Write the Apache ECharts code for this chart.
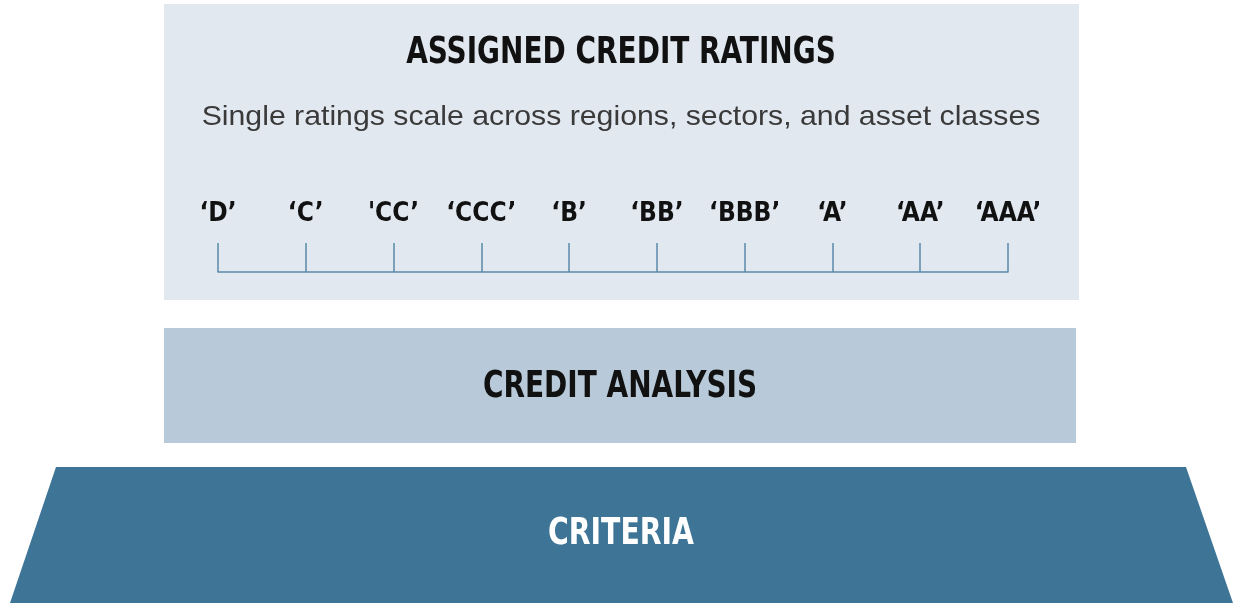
<!DOCTYPE html>
<html>
<head>
<meta charset="utf-8">
<script src="https://cdn.jsdelivr.net/npm/echarts@6/dist/echarts.min.js"></script>
<style>
  html, body { margin: 0; padding: 0; background: #fff; }
  #chart { width: 1235px; height: 604px; }
</style>
</head>
<body>
<div id="chart"></div>
<script>
// Rating scale, lowest to highest
const ratings = ['\u2018D\u2019', '\u2018C\u2019', '\'CC\u2019', '\u2018CCC\u2019', '\u2018B\u2019', '\u2018BB\u2019', '\u2018BBB\u2019', '\u2018A\u2019', '\u2018AA\u2019', '\u2018AAA\u2019'];

// Layer titles, top to bottom
const layerTitles = ['ASSIGNED CREDIT RATINGS', 'CREDIT ANALYSIS', 'CRITERIA'];
const subtitle = 'Single ratings scale across regions, sectors, and asset classes';

const narrow = "'DejaVu Sans Condensed', 'DejaVu Sans', sans-serif";

// centred text block, squeezed horizontally to look like a condensed face
function label(text, x, y, opts) {
  return {
    type: 'text',
    silent: true,
    x: x,
    y: y,
    scaleX: opts.scaleX || 1,
    style: Object.assign({
      text: text,
      x: 0,
      y: 0,
      align: 'center',
      verticalAlign: 'middle'
    }, opts.style)
  };
}

const chart = echarts.init(document.getElementById('chart'));

const headStyle = { fontFamily: narrow, fontWeight: 'bold', fontSize: 37, fill: '#111' };

const option = {
  animation: false,
  backgroundColor: '#fff',
  grid: {
    left: 218,
    right: 227,
    top: 150,
    bottom: 332
  },
  xAxis: {
    type: 'category',
    data: ratings,
    boundaryGap: false,
    axisLine: { lineStyle: { color: '#5b8aa9', width: 1.5 } },
    axisTick: {
      show: true,
      inside: true,
      length: 29,
      alignWithLabel: true,
      lineStyle: { color: '#5b8aa9', width: 1.5 }
    },
    axisLabel: {
      inside: true,
      margin: 45,
      interval: 0,
      color: '#111',
      fontFamily: narrow,
      fontWeight: 'bold',
      fontSize: 26
    },
    splitLine: { show: false }
  },
  yAxis: {
    type: 'value',
    show: false
  },
  series: [],
  graphic: [
    // background layers
    {
      type: 'rect', z: -10, silent: true,
      shape: { x: 164, y: 4, width: 915, height: 296 },
      style: { fill: '#e1e8f0' }
    },
    {
      type: 'rect', z: -10, silent: true,
      shape: { x: 164, y: 328, width: 912, height: 115 },
      style: { fill: '#b8cad9' }
    },
    {
      type: 'polygon', z: -10, silent: true,
      shape: { points: [[56, 467], [1186, 467], [1233, 603], [10, 603]] },
      style: { fill: '#3e7596' }
    },
    // texts
    label(layerTitles[0], 621, 53, { scaleX: 0.84, style: headStyle }),
    label(subtitle, 621, 117, {
      scaleX: 1.08,
      style: { fontFamily: "'Liberation Sans', sans-serif", fontSize: 28, fill: '#3a3a3a' }
    }),
    label(layerTitles[1], 620, 387, { scaleX: 0.84, style: headStyle }),
    label(layerTitles[2], 621, 534, {
      scaleX: 0.85,
      style: Object.assign({}, headStyle, { fill: '#fff' })
    })
  ]
};

chart.setOption(option);
</script>
</body>
</html>
